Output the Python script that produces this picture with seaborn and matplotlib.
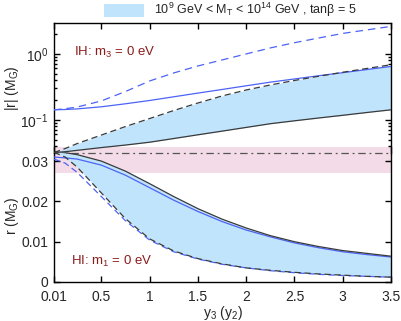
import numpy as np
import matplotlib
matplotlib.use("Agg")
import matplotlib.pyplot as plt
from matplotlib.patches import Patch
from matplotlib.ticker import FixedLocator, LogLocator, NullFormatter
import seaborn as sns

# y3 (y2) grid shared by all curves
y3 = [0.01, 0.125, 0.25, 0.5, 0.75, 1.0, 1.25, 1.5, 1.75, 2.0, 2.25, 2.5, 2.75, 3.0, 3.25, 3.5]

# IH: m3 = 0 eV  (|r| in units of M_G, log panel)
ih_blue_dashed = [0.1417, 0.1473, 0.156, 0.193, 0.268, 0.387, 0.512, 0.653, 0.805, 0.993,
                  1.224, 1.468, 1.729, 2.03, 2.295, 2.593]
ih_blue_solid = [0.1417, 0.1432, 0.1463, 0.1574, 0.1748, 0.1961, 0.2231, 0.2538, 0.2877, 0.3273,
                 0.3713, 0.4152, 0.4642, 0.517, 0.5762, 0.642]
ih_band_upper = [0.032, 0.0367, 0.0437, 0.0588, 0.0791, 0.1046, 0.1383, 0.1797, 0.2294, 0.2828,
                 0.3367, 0.3939, 0.456, 0.5245, 0.5988, 0.6813]
ih_band_lower = [0.032, 0.0329, 0.0345, 0.0380, 0.0415, 0.0458, 0.0521, 0.0593, 0.0674, 0.0767,
                 0.0873, 0.0966, 0.1065, 0.117, 0.129, 0.1417]

# HI: m1 = 0 eV  (r in units of M_G, linear panel)
nh_band_upper = [0.0323, 0.0321, 0.0316, 0.0300, 0.0275, 0.0244, 0.0212, 0.0182, 0.0156, 0.0134,
                 0.0115, 0.0100, 0.0088, 0.0078, 0.0071, 0.0064]
nh_blue_solid = [0.0310, 0.0308, 0.0305, 0.0290, 0.0265, 0.0234, 0.0203, 0.0175, 0.0150, 0.0129,
                 0.0112, 0.0097, 0.0085, 0.0075, 0.0068, 0.0062]
nh_band_lower = [0.0322, 0.0310, 0.0285, 0.0221, 0.0157, 0.0107, 0.0077, 0.0058, 0.0045, 0.0035,
                 0.0029, 0.0024, 0.0020, 0.0017, 0.0014, 0.0012]
nh_blue_dashed = [0.0305, 0.0295, 0.0272, 0.0212, 0.0152, 0.0104, 0.0075, 0.0057, 0.0044, 0.0035,
                  0.0028, 0.0023, 0.0019, 0.0016, 0.0014, 0.0012]

# horizontal reference: dash-dot value and pink band
r_ref = 0.032
band_lo, band_hi = 0.027, 0.0335

xticks = [0.01, 0.5, 1, 1.5, 2, 2.5, 3, 3.5]
xticklabels = ["0.01", "0.5", "1", "1.5", "2", "2.5", "3", "3.5"]

sns.set_style("ticks")
plt.rcParams["font.family"] = ["Liberation Sans", "DejaVu Sans"]
plt.rcParams["mathtext.fontset"] = "custom"
plt.rcParams["mathtext.rm"] = "Liberation Sans"
plt.rcParams["mathtext.it"] = "Liberation Sans:italic"
plt.rcParams["mathtext.bf"] = "Liberation Sans:bold"

fill_c = "#c0e4fb"
pink_c = "#f3dce7"
blue_c = "#4d63f5"
dark_c = "#3a3a3a"
red_c = "#8b1c1c"

fig = plt.figure(figsize=(4.01, 3.21), dpi=100)
ax_bot = fig.add_axes([0.1347, 0.1215, 0.8404, 0.4206])
ax_top = fig.add_axes([0.1347, 0.5249, 0.8404, 0.4044])
ax_top.patch.set_alpha(0)

# ---- bottom (linear) panel
ax_bot.axhspan(band_lo, band_hi, color=pink_c, lw=0, zorder=0)
ax_bot.axhline(r_ref, color="#555555", lw=0.9, ls=(0, (6, 3, 1.5, 3)), zorder=1)
ax_bot.fill_between(y3, nh_band_lower, nh_band_upper, color=fill_c, lw=0, zorder=2)
sns.lineplot(x=y3, y=nh_band_upper, ax=ax_bot, color=dark_c, lw=0.9, zorder=4)
sns.lineplot(x=y3, y=nh_blue_solid, ax=ax_bot, color=blue_c, lw=0.9, zorder=3)
sns.lineplot(x=y3, y=nh_blue_dashed, ax=ax_bot, color=blue_c, lw=0.9, ls=(0, (5, 3)), zorder=3)
sns.lineplot(x=y3, y=nh_band_lower, ax=ax_bot, color=dark_c, lw=0.9, ls=(0, (5, 3)), zorder=4)

ax_bot.set_xlim(0.01, 3.5)
ax_bot.set_ylim(0, band_hi)
ax_bot.set_yticks([0, 0.01, 0.02, 0.03])
ax_bot.set_yticklabels(["0", "0.01", "0.02", "0.03"])
ax_bot.set_xticks(xticks)
ax_bot.set_xticklabels(xticklabels)
ax_bot.spines["top"].set_visible(False)
ax_bot.tick_params(which="both", direction="in", left=True, right=True, top=False, bottom=True,
                   length=4.5, width=1, labelsize=10, pad=4, color="black")
ax_bot.tick_params(axis="x", pad=6)
ax_bot.set_xlabel("")
ax_bot.set_ylabel("")

# ---- top (log) panel
ax_top.fill_between(y3, ih_band_lower, ih_band_upper, color=fill_c, lw=0, zorder=2)
sns.lineplot(x=y3, y=ih_blue_dashed, ax=ax_top, color=blue_c, lw=0.9, ls=(0, (6, 4)), zorder=3)
sns.lineplot(x=y3, y=ih_blue_solid, ax=ax_top, color=blue_c, lw=0.9, zorder=3)
sns.lineplot(x=y3, y=ih_band_upper, ax=ax_top, color=dark_c, lw=0.9, ls=(0, (5, 3)), zorder=4)
sns.lineplot(x=y3, y=ih_band_lower, ax=ax_top, color=dark_c, lw=0.9, zorder=4)

ax_top.set_yscale("log")
ax_top.set_xlim(0.01, 3.5)
ax_top.set_ylim(0.032, 2.95)
ax_top.yaxis.set_major_locator(FixedLocator([0.1, 1]))
ax_top.set_yticklabels([r"$\mathregular{10^{-1}}$", r"$\mathregular{10^{0}}$"])
ax_top.yaxis.set_minor_locator(LogLocator(base=10, subs=np.arange(2, 10)))
ax_top.yaxis.set_minor_formatter(NullFormatter())
ax_top.set_xticks(xticks)
ax_top.spines["bottom"].set_visible(False)
ax_top.tick_params(which="both", direction="in", left=True, right=True, top=True, bottom=False,
                   labelbottom=False, width=1, labelsize=10, pad=4, color="black")
ax_top.tick_params(which="major", length=4.5)
ax_top.tick_params(which="minor", length=2.5)
ax_top.set_xlabel("")
ax_top.set_ylabel("")

for ax in (ax_top, ax_bot):
    for s in ax.spines.values():
        s.set_linewidth(1.0)
        s.set_color("black")

ax_top.text(0.06, 0.77, r"IH: $\mathregular{m_{3}}$ = 0 eV", transform=ax_top.transAxes,
            color=red_c, fontsize=9.5, va="center", ha="left")
ax_bot.text(0.05, 0.155, r"HI: $\mathregular{m_{1}}$ = 0 eV", transform=ax_bot.transAxes,
            color=red_c, fontsize=9.5, va="center", ha="left")

fig.text(0.030, 0.727, r"|r| ($\mathregular{M_{G}}$)", rotation=90, ha="center", va="center", fontsize=10)
fig.text(0.030, 0.327, r"r ($\mathregular{M_{G}}$)", rotation=90, ha="center", va="center", fontsize=10)
fig.text(0.556, 0.026, r"$\mathregular{y_{3}}$ ($\mathregular{y_{2}}$)", ha="center", va="center", fontsize=10)

fig.legend(handles=[Patch(facecolor=fill_c, edgecolor="none")],
           labels=[r"$\mathregular{10^{9}}$ GeV < $\mathregular{M_{T}}$ < $\mathregular{10^{14}}$ GeV , tan$\mathregular{\beta}$ = 5"],
           loc="center", bbox_to_anchor=(0.575, 0.968), frameon=False, fontsize=9,
           handlelength=3.2, handleheight=1.2, handletextpad=0.8, borderpad=0)

fig.savefig("out.png", dpi=100)
